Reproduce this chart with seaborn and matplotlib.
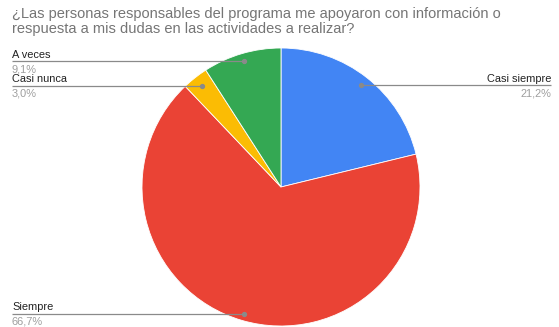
import numpy as np
import matplotlib
matplotlib.use("Agg")
import matplotlib.pyplot as plt
import seaborn as sns

# Survey answers, in the order drawn clockwise from 12 o'clock
categories = ["Casi siempre", "Siempre", "Casi nunca", "A veces"]
values = [21.2, 66.7, 3.0, 9.1]
pct_labels = ["21,2%", "66,7%", "3,0%", "9,1%"]
colors = ["#4285F4", "#EA4335", "#FBBC04", "#34A853"]

title = ("¿Las personas responsables del programa me apoyaron con información o\n"
         "respuesta a mis dudas en las actividades a realizar?")

sns.set_theme(style="white")
plt.rcParams["font.family"] = ["Liberation Sans", "DejaVu Sans"]

W, H = 559, 327
fig = plt.figure(figsize=(W / 100, H / 100), dpi=100)
fig.patch.set_facecolor("white")

# pie placement in pixels
cx, cy, R = 281, 187, 139
ax = fig.add_axes([(cx - R) / W, (H - cy - R) / H, 2 * R / W, 2 * R / H])

wedges, _ = ax.pie(values, colors=colors, startangle=90, counterclock=False,
                   radius=1, wedgeprops=dict(linewidth=0.6, edgecolor="white"))
ax.set_xlim(-1, 1)
ax.set_ylim(-1, 1)
ax.set_aspect("auto")
ax.axis("off")


def to_data(px, py):
    return (px - cx) / R, (cy - py) / R


# label layout: (leader line y in px, side)
layout = {
    "Casi siempre": (85, "right"),
    "Siempre": (314, "left"),
    "Casi nunca": (86, "left"),
    "A veces": (61, "left"),
}

line_col = "#8a8a8a"
for w, cat, pct in zip(wedges, categories, pct_labels):
    ang = np.deg2rad((w.theta1 + w.theta2) / 2)
    ly, side = layout[cat]
    _, dy = to_data(0, ly)
    dx = dy / np.tan(ang)
    if side == "left":
        x_end, _ = to_data(12, 0)
        ha = "left"
    else:
        x_end, _ = to_data(551, 0)
        ha = "right"
    ax.plot([x_end, dx], [dy, dy], color=line_col, lw=0.9, clip_on=False,
            solid_capstyle="butt")
    ax.plot([dx], [dy], "o", color=line_col, ms=2.8, clip_on=False)
    ax.text(x_end, dy + 6.5 / R, cat, ha=ha, va="center", fontsize=7.9,
            color="#222222", clip_on=False)
    ax.text(x_end, dy - 8.0 / R, pct, ha=ha, va="center", fontsize=7.9,
            color="#9e9e9e", clip_on=False)

fig.text(12 / W, 1 - 7 / H, title, ha="left", va="top", fontsize=10.5,
         color="#757575", linespacing=1.12)

fig.savefig("out.png", dpi=100, facecolor="white")
